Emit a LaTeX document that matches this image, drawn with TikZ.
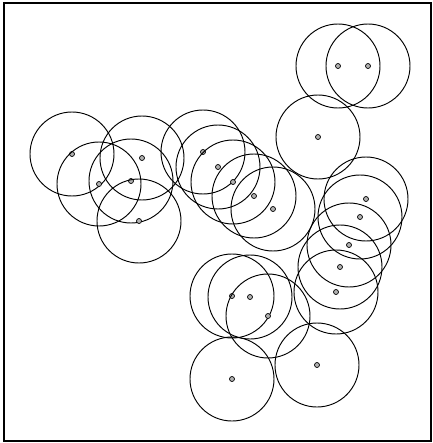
\documentclass[tikz,border=0pt]{standalone}
\usepackage{tikz}
\begin{document}
\begin{tikzpicture}[
    x=0.03cm, y=-0.03cm,
    site/.style={
        circle, draw, line width=0.6pt,
        fill=gray!60, inner sep=0pt, minimum size=0.15cm
    },
    reach/.style={
        circle, draw, line width=0.8pt,
        inner sep=0pt, minimum size=2.52cm
    },
    frame/.style={draw, line width=1.4pt},
]
\useasboundingbox (0,0) rectangle (433,443);
\draw[frame] (4,3) rectangle (431,441);

% ── Left group ────────────────────────────
\node[site] (s1) at (72,154) {};   \node[reach] (r1) at (s1) {};
\node[site] (s2) at (99,184) {};   \node[reach] (r2) at (s2) {};
\node[site] (s3) at (131,181) {};  \node[reach] (r3) at (s3) {};
\node[site] (s4) at (142,158) {};  \node[reach] (r4) at (s4) {};
\node[site] (s5) at (139,221) {};  \node[reach] (r5) at (s5) {};

% ── Middle chain ────────────────────────────
\node[site] (s6) at (203,152) {};  \node[reach] (r6) at (s6) {};
\node[site] (s7) at (218,167) {};  \node[reach] (r7) at (s7) {};
\node[site] (s8) at (233,182) {};  \node[reach] (r8) at (s8) {};
\node[site] (s9) at (254,196) {};  \node[reach] (r9) at (s9) {};
\node[site] (s10) at (273,209) {}; \node[reach] (r10) at (s10) {};

% ── Top right ────────────────────────────
\node[site] (s11) at (338,66) {};  \node[reach] (r11) at (s11) {};
\node[site] (s12) at (368,66) {};  \node[reach] (r12) at (s12) {};
\node[site] (s13) at (318,137) {}; \node[reach] (r13) at (s13) {};

% ── Right column ────────────────────────────
\node[site] (s14) at (366,199) {}; \node[reach] (r14) at (s14) {};
\node[site] (s15) at (360,217) {}; \node[reach] (r15) at (s15) {};
\node[site] (s16) at (349,245) {}; \node[reach] (r16) at (s16) {};
\node[site] (s17) at (340,267) {}; \node[reach] (r17) at (s17) {};
\node[site] (s18) at (336,292) {}; \node[reach] (r18) at (s18) {};

% ── Bottom group ────────────────────────────
\node[site] (s19) at (232,296) {}; \node[reach] (r19) at (s19) {};
\node[site] (s20) at (250,297) {}; \node[reach] (r20) at (s20) {};
\node[site] (s21) at (268,316) {}; \node[reach] (r21) at (s21) {};
\node[site] (s22) at (232,379) {}; \node[reach] (r22) at (s22) {};
\node[site] (s23) at (317,365) {}; \node[reach] (r23) at (s23) {};

\end{tikzpicture}
\end{document}
